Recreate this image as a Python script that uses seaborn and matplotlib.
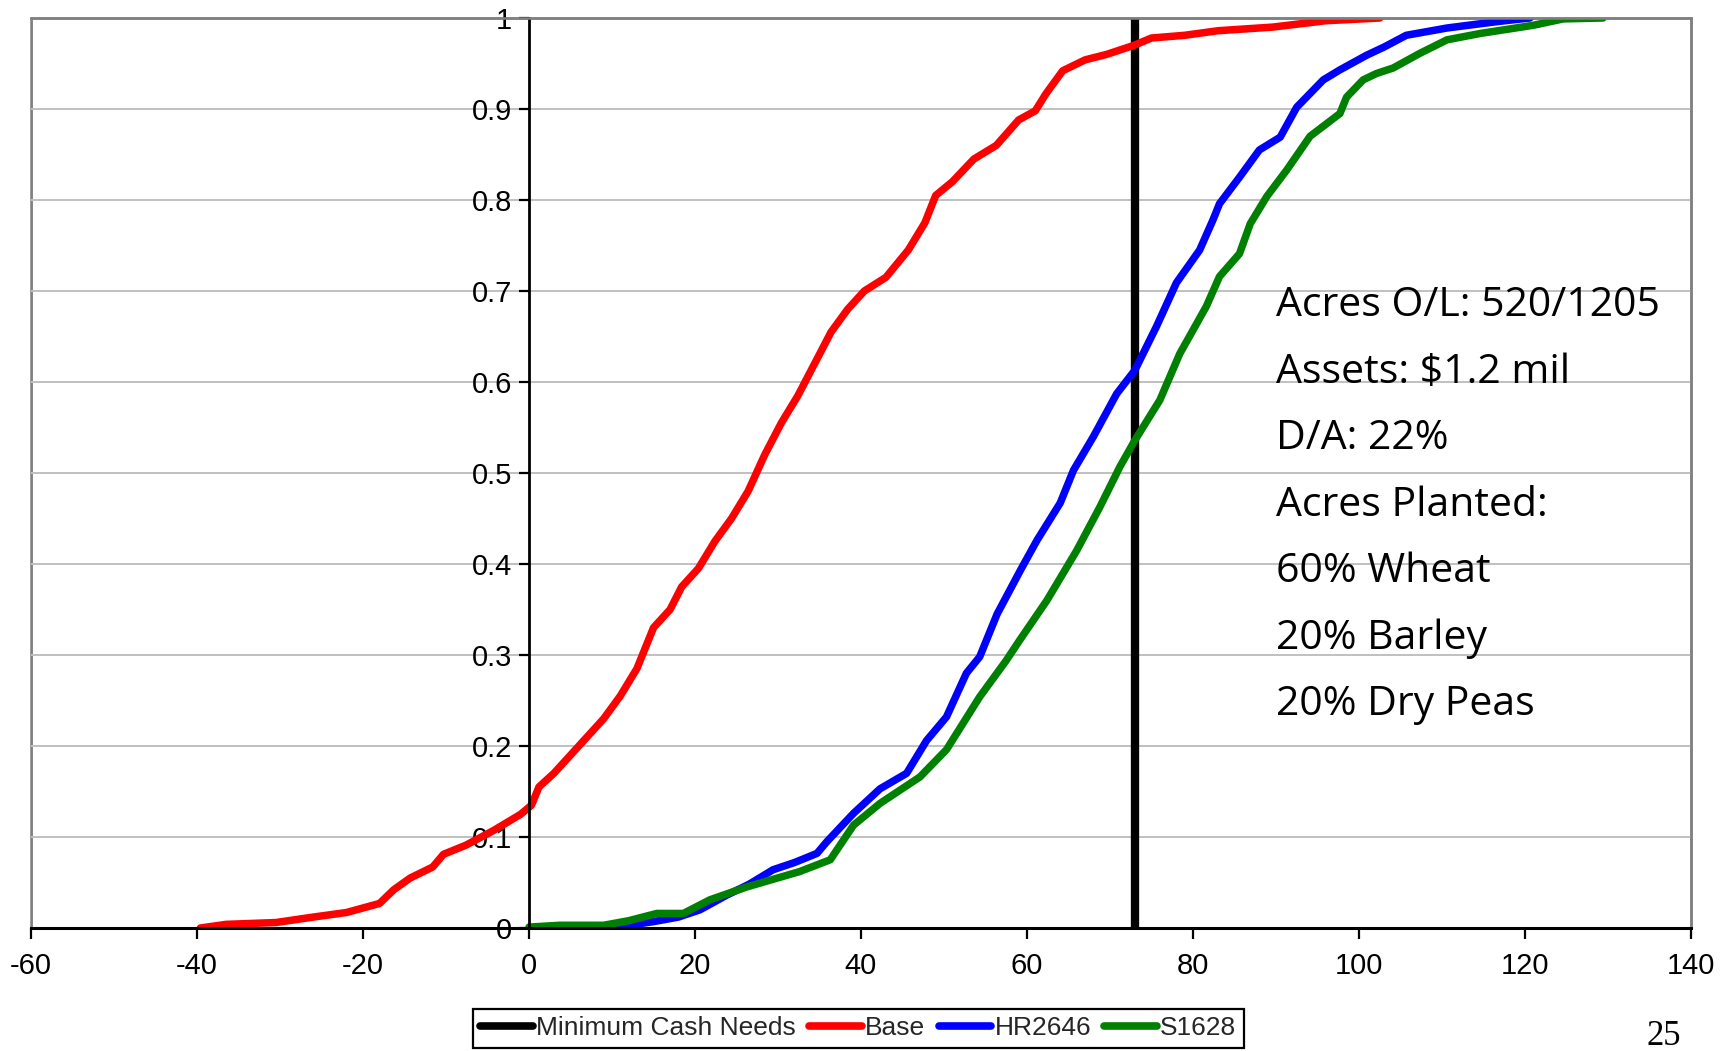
import matplotlib
matplotlib.use("Agg")
import matplotlib.pyplot as plt
from matplotlib.lines import Line2D
import pandas as pd
import seaborn as sns

sns.set_style("white")
plt.rcParams["font.family"] = ["Liberation Sans", "DejaVu Sans"]

# Cumulative distributions of ending cash (thousand $)
base_x = [-39.6, -36.5, -30.5, -26, -22, -18, -16.3, -14.3, -11.6, -10.3, -7.6, -4.3, -1,
          0.3, 1.2, 3, 5, 7, 9, 11, 13, 15, 17, 18.4, 20.4, 22.4, 24.4, 26.4, 28.4, 30.4,
          32.4, 34.4, 36.4, 38.4, 40.4, 43, 45.7, 47.7, 49, 51, 53.6, 56.3, 59, 61, 62.3,
          64.3, 67, 69.6, 72.9, 75, 79, 83, 89.6, 96, 102.5]
base_y = [0, 0.004, 0.006, 0.012, 0.017, 0.027, 0.042, 0.055, 0.067, 0.081, 0.091, 0.107,
          0.125, 0.135, 0.155, 0.17, 0.19, 0.21, 0.23, 0.255, 0.285, 0.33, 0.35, 0.375,
          0.395, 0.425, 0.45, 0.48, 0.52, 0.555, 0.585, 0.62, 0.655, 0.68, 0.70, 0.715,
          0.745, 0.775, 0.805, 0.82, 0.845, 0.86, 0.888, 0.898, 0.917, 0.942, 0.954, 0.96,
          0.97, 0.978, 0.981, 0.986, 0.99, 0.997, 1.0]

hr2646_x = [9, 12, 15, 18, 20.6, 23.8, 26.5, 29.4, 32, 34.7, 35.9, 39.1, 42.3, 45.5, 47.9,
            50.3, 52.7, 54.3, 56.4, 59.2, 61.2, 64, 65.6, 68, 70.8, 73, 75.6, 78, 80.8,
            82.4, 83.2, 85.6, 88, 90.5, 92.5, 95.7, 97.7, 100.9, 103, 105.7, 110.6, 116.6,
            120.6]
hr2646_y = [0, 0.003, 0.007, 0.012, 0.02, 0.036, 0.048, 0.064, 0.072, 0.082, 0.095, 0.126,
            0.153, 0.17, 0.206, 0.232, 0.28, 0.298, 0.345, 0.393, 0.426, 0.467, 0.503, 0.54,
            0.587, 0.613, 0.661, 0.709, 0.745, 0.778, 0.796, 0.825, 0.855, 0.869, 0.902,
            0.932, 0.943, 0.959, 0.968, 0.981, 0.989, 0.996, 1.0]

s1628_x = [0, 3.7, 9, 12, 15.4, 18.6, 21.8, 26.2, 32.6, 36.3, 39.1, 42.3, 47.1, 50.3, 54.3,
           57.5, 59.1, 62.4, 66, 68.8, 71.2, 73, 76, 78.4, 81.6, 83.2, 85.6, 86.9, 88.9,
           91.3, 94.1, 97.7, 98.5, 100.5, 102.1, 104.1, 107.3, 110.6, 114.6, 121, 124.6,
           129.4]
s1628_y = [0.001, 0.003, 0.003, 0.008, 0.016, 0.016, 0.031, 0.045, 0.062, 0.075, 0.113,
           0.137, 0.166, 0.196, 0.254, 0.294, 0.316, 0.36, 0.415, 0.463, 0.507, 0.536, 0.58,
           0.631, 0.683, 0.716, 0.741, 0.774, 0.804, 0.833, 0.87, 0.895, 0.913, 0.932,
           0.939, 0.945, 0.961, 0.976, 0.983, 0.992, 0.999, 1.0]

min_cash_x = [73, 73]
min_cash_y = [0, 1]

series_names = ["Minimum Cash Needs", "Base", "HR2646", "S1628"]
series_colors = ["#000000", "#FF0000", "#0000FF", "#008000"]

x_ticks = [-60, -40, -20, 0, 20, 40, 60, 80, 100, 120, 140]
x_tick_labels = ["-60", "-40", "-20", "0", "20", "40", "60", "80", "100", "120", "140"]
y_ticks = [0, 0.1, 0.2, 0.3, 0.4, 0.5, 0.6, 0.7, 0.8, 0.9, 1.0]
y_tick_labels = ["0", "0.1", "0.2", "0.3", "0.4", "0.5", "0.6", "0.7", "0.8", "0.9", "1"]

farm_notes = ["Acres O/L: 520/1205", "Assets: \\$1.2 mil", "D/A: 22%", "Acres Planted:",
              "60% Wheat", "20% Barley", "20% Dry Peas"]
page_number = "25"

cdf = pd.concat([
    pd.DataFrame({"cash": base_x, "prob": base_y, "series": "Base"}),
    pd.DataFrame({"cash": hr2646_x, "prob": hr2646_y, "series": "HR2646"}),
    pd.DataFrame({"cash": s1628_x, "prob": s1628_y, "series": "S1628"}),
], ignore_index=True)
palette = dict(zip(series_names, series_colors))

fig = plt.figure(figsize=(17.33, 10.51), dpi=100)
ax = fig.add_axes([31 / 1733, 123 / 1051, 1660 / 1733, 910 / 1051])

sns.lineplot(x=min_cash_x, y=min_cash_y, estimator=None, sort=False, color="black",
             linewidth=6, ax=ax, legend=False)
sns.lineplot(data=cdf, x="cash", y="prob", hue="series", palette=palette,
             estimator=None, sort=False, linewidth=5.4, ax=ax, legend=False)

ax.set_xlim(-60, 140)
ax.set_ylim(0, 1)
ax.set_xlabel("")
ax.set_ylabel("")
ax.set_xticks(x_ticks)
ax.set_xticklabels(x_tick_labels)
ax.set_yticks(y_ticks)
ax.set_yticklabels(y_tick_labels)
ax.tick_params(axis="x", direction="out", length=8, width=1.6, pad=9,
               labelsize=21, colors="black", bottom=True)
ax.tick_params(axis="y", direction="out", length=7, width=1.6, pad=5,
               labelsize=21, colors="black", left=True)

ax.yaxis.grid(True, color="#C0C0C0", linewidth=1.4)
ax.xaxis.grid(False)
ax.set_axisbelow(True)

# plot-area frame, with the value axis crossing at zero
ax.patch.set_edgecolor("#808080")
ax.patch.set_linewidth(1.8)
for side in ["top", "right"]:
    ax.spines[side].set_color("#808080")
    ax.spines[side].set_linewidth(1.8)
ax.spines["left"].set_position(("data", 0))
ax.spines["left"].set_color("black")
ax.spines["left"].set_linewidth(2)
ax.spines["bottom"].set_color("black")
ax.spines["bottom"].set_linewidth(2.2)
ax.axvline(-60, color="#808080", linewidth=1.8, zorder=0.5)

for i, line in enumerate(farm_notes):
    ax.text(90, 0.6835 - i * 0.0731, line, ha="left", va="center",
            fontsize=29.5, family="Open Sans", color="black")

handles = [Line2D([], [], color=c, linewidth=5.5, solid_capstyle="round")
           for c in series_colors]
leg = fig.legend(handles, series_names, loc="upper left",
                 bbox_to_anchor=(473 / 1733, 1 - 1009 / 1051), ncol=4, frameon=True,
                 fancybox=False, edgecolor="black", framealpha=1, fontsize=19,
                 handlelength=2.0, handletextpad=0.12, columnspacing=0.5,
                 borderpad=0.28, borderaxespad=0)
leg.get_frame().set_linewidth(1.6)

fig.text(1664 / 1733, 6 / 1051, page_number, ha="center", va="baseline",
         fontsize=25, family="Liberation Serif", color="black")

fig.savefig("out.png", dpi=100, facecolor="white")
